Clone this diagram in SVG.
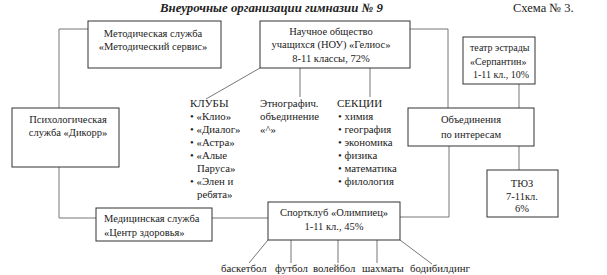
<svg xmlns="http://www.w3.org/2000/svg" width="607" height="275" viewBox="0 0 607 275">
<style>
text{font-family:'Liberation Serif','Times New Roman',serif;font-size:10.5px;fill:#222}
.c{text-anchor:middle}
.t{font-weight:bold;font-style:italic;font-size:12.8px}
.box{fill:#fff;stroke:#333;stroke-width:1}
.ln{fill:none;stroke:#777;stroke-width:1}
.s{font-size:10.8px}
.h{font-size:11px}
.n{font-size:10px}
</style>
<rect width="607" height="275" fill="#fff"/>
<text class="t" x="160" y="12">Внеурочные организации гимназии № 9</text>
<text x="513" y="12" style="font-size:12.5px">Схема № 3.</text>
<g id="connectors">
<polyline class="ln" points="88,29 59,29 59,108"/>
<polyline class="ln" points="59,167 59,218 96,218"/>
<line class="ln" x1="212" y1="218" x2="268" y2="218"/>
<polyline class="ln" points="400,217 449,217 449,146"/>
<polyline class="ln" points="410,29 448,29 448,108"/>
<line class="ln" x1="519" y1="84" x2="519" y2="108"/>
<line class="ln" x1="519" y1="146" x2="519" y2="170"/>
<line class="ln" x1="300" y1="68" x2="300" y2="97"/>
<line class="ln" x1="370" y1="68" x2="370" y2="97"/>
<line class="ln" x1="260" y1="68" x2="206" y2="99"/>
<line class="ln" x1="268" y1="240" x2="249" y2="263"/>
<line class="ln" x1="291" y1="240" x2="291" y2="263"/>
<line class="ln" x1="338" y1="240" x2="338" y2="263"/>
<line class="ln" x1="377" y1="240" x2="377" y2="263"/>
<line class="ln" x1="400" y1="240" x2="432" y2="264"/>
</g>
<g id="metod">
<rect class="box" x="88" y="21" width="133" height="47"/>
<text class="c" x="153" y="37">Методическая служба</text>
<text class="c" x="153" y="50">«Методический сервис»</text>
</g>
<g id="nou">
<rect class="box" x="260" y="21" width="150" height="47"/>
<text class="c" x="331" y="35">Научное общество</text>
<text class="c" x="331" y="48">учащихся (НОУ) «Гелиос»</text>
<text class="c" x="331" y="62">8-11 классы, 72%</text>
</g>
<g id="teatr">
<rect class="box" x="463" y="37" width="72" height="47"/>
<text class="n" x="470" y="51">театр эстрады</text>
<text class="n" x="470" y="65">«Серпантин»</text>
<text class="n" x="473" y="78">1-11 кл., 10%</text>
</g>
<g id="psych">
<rect class="box" x="12" y="108" width="107" height="59"/>
<text class="c" x="68" y="123">Психологическая</text>
<text class="c" x="68" y="136">служба «Дикорр»</text>
</g>
<g id="clubs">
<text class="h" x="190" y="107">КЛУБЫ</text>
<text class="s" x="190" y="120">• «Клио»</text>
<text class="s" x="190" y="133">• «Диалог»</text>
<text class="s" x="190" y="146">• «Астра»</text>
<text class="s" x="190" y="159">• «Алые</text>
<text class="s" x="197" y="172">Паруса»</text>
<text class="s" x="190" y="185">• «Элен и</text>
<text class="s" x="197" y="198">ребята»</text>
</g>
<g id="etno">
<text class="s" x="260" y="107">Этнографич.</text>
<text class="s" x="260" y="120">объединение</text>
<text class="s" x="260" y="133">«^»</text>
</g>
<g id="sections">
<text class="h" x="337" y="107">СЕКЦИИ</text>
<text class="s" x="338" y="120">• химия</text>
<text class="s" x="338" y="133">• география</text>
<text class="s" x="338" y="146">• экономика</text>
<text class="s" x="338" y="159">• физика</text>
<text class="s" x="338" y="172">• математика</text>
<text class="s" x="338" y="185">• филология</text>
</g>
<g id="obed">
<rect class="box" x="408" y="108" width="126" height="38"/>
<text class="c" x="471" y="123">Объединения</text>
<text class="c" x="471" y="138">по  интересам</text>
</g>
<g id="tyuz">
<rect class="box" x="487" y="170" width="71" height="47"/>
<text class="c" x="522" y="187">ТЮЗ</text>
<text class="c" x="522" y="200">7-11кл.</text>
<text class="c" x="522" y="212">6%</text>
</g>
<g id="med">
<rect class="box" x="96" y="208" width="116" height="33"/>
<text x="104" y="222">Медицинская служба</text>
<text x="104" y="236">«Центр здоровья»</text>
</g>
<g id="sport">
<rect class="box" x="268" y="202" width="132" height="38"/>
<text class="c" x="334" y="216">Спортклуб «Олимпиец»</text>
<text class="c" x="334" y="230">1-11 кл., 45%</text>
</g>
<g id="sports">
<text class="s" x="221" y="272">баскетбол</text>
<text class="s" x="275" y="272">футбол</text>
<text class="s" x="313" y="272">волейбол</text>
<text class="s" x="362" y="272">шахматы</text>
<text class="s" x="410" y="272">бодибилдинг</text>
</g>
</svg>
